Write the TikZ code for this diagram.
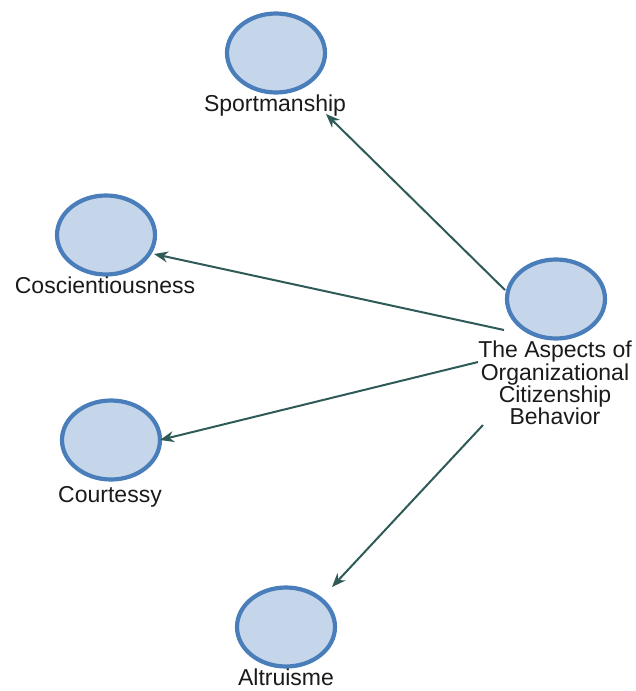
\documentclass[tikz,border=0pt]{standalone}
\usepackage{fontspec}
\setmainfont{Liberation Sans}
\usetikzlibrary{arrows.meta,shapes.geometric}
\definecolor{fillblue}{HTML}{C6D6EA}
\definecolor{edgeblue}{HTML}{4A7EBB}
\definecolor{arrowc}{HTML}{2E5A58}
\definecolor{txt}{HTML}{1A1A1A}
\begin{document}
\begin{tikzpicture}[x=1pt,y=-1pt,
  bubble/.style={ellipse,draw=edgeblue,fill=fillblue,line width=4.2pt,minimum width=98pt,minimum height=79pt,inner sep=0pt},
  lbl/.style={text=txt,font=\fontsize{23}{21}\selectfont,inner sep=0pt,anchor=base},
  mlbl/.style={text=txt,font=\fontsize{23}{21}\selectfont,align=center,inner sep=0pt},
  link/.style={draw=arrowc,line width=2pt,-{Stealth[length=14pt,width=11pt]}}]
\useasboundingbox (0,0) rectangle (635,691);
\node[bubble] (sp) at (276,53) {};
\node[lbl] (spl) at (275,111) {Sportmanship};
\node[bubble] (co) at (106,235) {};
\node[lbl] (col) at (105,293) {Coscientiousness};
\node[bubble] (cu) at (111,440) {};
\node[lbl] (cul) at (110,502) {Courtessy};
\node[bubble] (al) at (286,627) {};
\node[lbl] (all) at (286,685) {Altruisme};
\node[bubble] (oc) at (556,299) {};
\node[mlbl] (ocl) at (555,383) {The Aspects of\\Organizational\\Citizenship\\Behavior};
\coordinate (s1) at (505,290);
\coordinate (s2) at (504,330);
\coordinate (s3) at (478,362);
\coordinate (s4) at (483,425);
\coordinate (e1) at (326,114);
\coordinate (e2) at (154,254);
\coordinate (e3) at (160,440);
\coordinate (e4) at (332,587);
\draw[link] (s1) -- (e1);
\draw[link] (s2) -- (e2);
\draw[link] (s3) -- (e3);
\draw[link] (s4) -- (e4);
\end{tikzpicture}
\end{document}
